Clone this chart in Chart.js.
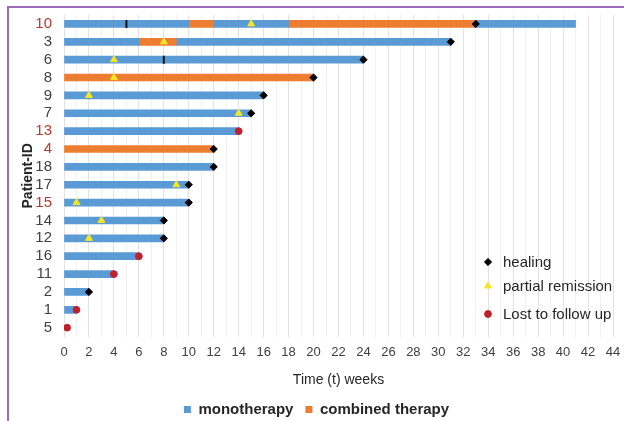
<!DOCTYPE html>
<html>
<head>
<meta charset="utf-8">
<script src="https://cdn.jsdelivr.net/npm/chart.js@4.4.1/dist/chart.umd.min.js"></script>
<style>
  html, body { margin: 0; padding: 0; background: #fff; }
  #wrap { width: 624px; height: 421px; }
</style>
</head>
<body>
<div id="wrap"><canvas id="chart" width="624" height="421"></canvas></div>
<script>
// patients, top to bottom
const patients = ['10', '3', '6', '8', '9', '7', '13', '4', '18', '17', '15', '14', '12', '16', '11', '2', '1', '5'];
const redPatients = ['10', '13', '4', '15'];

// treatment segments [start, end] in weeks, one entry per patient (null = none)
const mono1 = [[0, 10], [0, 6], [0, 24], null, [0, 16], [0, 15], [0, 14], null, [0, 12], [0, 10], [0, 10], [0, 8], [0, 8], [0, 6], [0, 4], [0, 2], [0, 1], null];
const mono2 = [[12, 18], [9, 31], null, null, null, null, null, null, null, null, null, null, null, null, null, null, null, null];
const mono3 = [[33, 41], null, null, null, null, null, null, null, null, null, null, null, null, null, null, null, null, null];
const combo1 = [[10, 12], [6, 9], null, [0, 20], null, null, null, [0, 12], null, null, null, null, null, null, null, null, null, null];
const combo2 = [[18, 33], null, null, null, null, null, null, null, null, null, null, null, null, null, null, null, null, null];

// events
const healingIds = ['10', '3', '6', '8', '9', '7', '4', '18', '17', '15', '14', '12', '2'];
const healingWeeks = [33, 31, 24, 20, 16, 15, 12, 12, 10, 10, 8, 8, 2];
const partialIds = ['10', '3', '6', '8', '9', '7', '17', '15', '14', '12'];
const partialWeeks = [15, 8, 4, 4, 2, 14, 9, 1, 3, 2];
const lostIds = ['13', '16', '11', '1', '5'];
const lostWeeks = [14, 6, 4, 1, 0.25];
const switchIds = ['10', '6'];
const switchWeeks = [5, 8];

const BLUE = '#5b9bd5';
const ORANGE = '#ed7d31';
const FONT = '"Liberation Sans", Arial, sans-serif';

const pts = (ids, weeks) => ids.map((id, i) => ({ x: weeks[i], y: id }));

const barSet = (label, data, color, showInLegend) => ({
    type: 'bar', label, data, backgroundColor: color,
    barThickness: 7, grouped: false, order: 2, inLegend: showInLegend
});

// marker legend inside the plot + purple frame
const extras = {
    id: 'extras',
    afterDraw(chart) {
        const c = chart.ctx;
        c.save();
        c.fillStyle = '#9e6bbd';
        c.fillRect(7, 6, 2, 415);
        c.fillRect(7, 6, 617, 2);
        const items = chart.data.datasets.filter(d => d.markerLegend);
        const rows = [262, 286, 314];
        items.forEach((d, i) => {
            c.fillStyle = d.backgroundColor;
            c.strokeStyle = d.backgroundColor;
            Chart.helpers.drawPoint(c, {
                pointStyle: d.pointStyle, radius: d.pointRadius, rotation: 0,
                borderWidth: 1
            }, 488, rows[i]);
            c.fillStyle = '#262626';
            c.font = '15px ' + FONT;
            c.textBaseline = 'middle';
            c.fillText(d.label, 503, rows[i] + 1);
        });
        c.restore();
    }
};

new Chart(document.getElementById('chart'), {
    type: 'bar',
    data: {
        labels: patients,
        datasets: [
            { type: 'scatter', label: 'healing', data: pts(healingIds, healingWeeks), pointStyle: 'rectRot', pointRadius: 3.6, backgroundColor: '#000', borderColor: '#000', borderWidth: 1, order: 0, markerLegend: true },
            { type: 'scatter', label: 'partial remission', data: pts(partialIds, partialWeeks), pointStyle: 'triangle', pointRadius: 4, backgroundColor: '#f5e625', borderColor: '#f5e625', borderWidth: 1, order: 0, markerLegend: true },
            { type: 'scatter', label: 'Lost to follow up', data: pts(lostIds, lostWeeks), pointStyle: 'circle', pointRadius: 3.4, backgroundColor: '#c0202a', borderColor: '#c0202a', borderWidth: 1, order: 0, markerLegend: true },
            { type: 'scatter', label: 'switch', data: pts(switchIds, switchWeeks), pointStyle: 'line', rotation: 90, pointRadius: 4, borderColor: '#111', borderWidth: 2, order: 1 },
            barSet('monotherapy', mono1, BLUE, true),
            barSet('combined therapy', combo1, ORANGE, true),
            barSet('monotherapy', mono2, BLUE, false),
            barSet('monotherapy', mono3, BLUE, false),
            barSet('combined therapy', combo2, ORANGE, false)
        ]
    },
    options: {
        indexAxis: 'y',
        responsive: false,
        animation: false,
        layout: { padding: { left: 20, right: 11, top: 15, bottom: -6 } },
        scales: {
            x: {
                type: 'linear', min: 0, max: 44,
                border: { display: false },
                afterFit: scale => { scale.paddingLeft = 0; scale.paddingRight = 0; },
                grid: {
                    drawTicks: false,
                    color: ctx => (ctx.tick && ctx.tick.value % 2 === 0) ? '#e2e2e2' : '#f0f0f0'
                },
                ticks: {
                    stepSize: 1, autoSkip: false, maxRotation: 0, padding: 8,
                    color: '#404040', font: { family: FONT, size: 13 },
                    callback: v => (v % 2 === 0 ? v : '')
                },
                title: { display: true, text: 'Time (t) weeks', color: '#262626', font: { family: FONT, size: 14 }, padding: { top: 4, bottom: 1 } }
            },
            y: {
                type: 'category',
                border: { display: false },
                grid: { display: false, drawTicks: false },
                afterFit: scale => { scale.width = 44; scale.paddingTop = 0; scale.paddingBottom = 0; },
                ticks: {
                    autoSkip: false,
                    padding: 12,
                    font: { family: FONT, size: 15 },
                    color: ctx => redPatients.includes(patients[ctx.index]) ? '#b63a2e' : '#404040'
                },
                title: { display: true, text: 'Patient-ID', color: '#262626', font: { family: FONT, size: 14, weight: 'bold' }, padding: { top: 0, bottom: 4 } }
            }
        },
        plugins: {
            tooltip: { enabled: false },
            legend: {
                position: 'bottom',
                labels: {
                    filter: (item, data) => data.datasets[item.datasetIndex].inLegend === true,
                    boxWidth: 7, boxHeight: 7, padding: 12,
                    color: '#262626',
                    font: { family: FONT, size: 15, weight: 'bold' }
                }
            }
        }
    },
    plugins: [extras]
});
</script>
</body>
</html>
